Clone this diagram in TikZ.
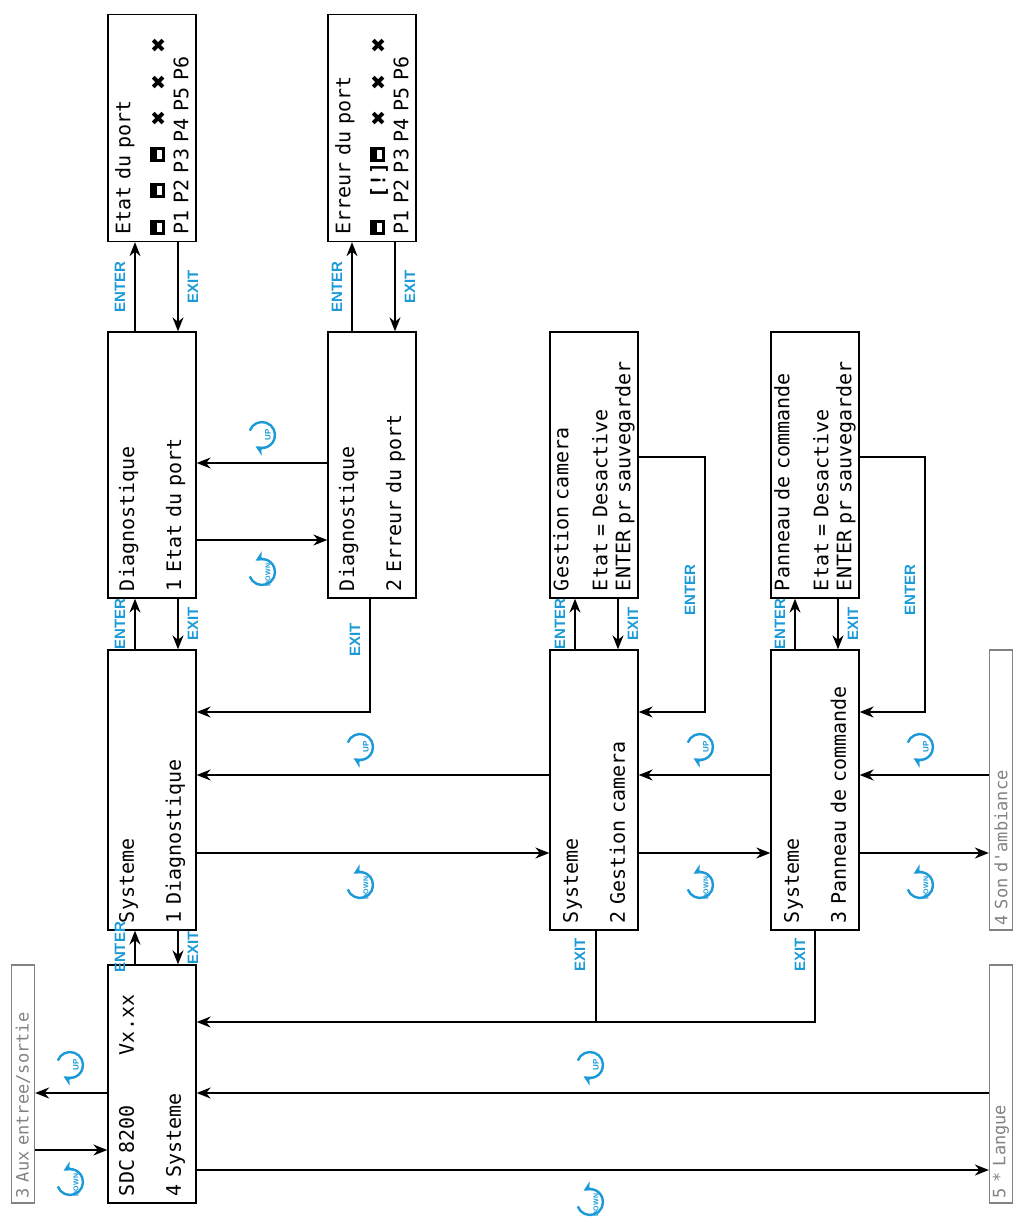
\documentclass[tikz,border=0pt]{standalone}
\usepackage{fontspec}
\setmainfont{Liberation Sans}
\newfontfamily\lcd{DejaVu Sans Mono}
\newfontfamily\symb{DejaVu Sans}
\usetikzlibrary{arrows.meta,positioning,calc}
\definecolor{keyblue}{RGB}{27,154,215}
\definecolor{offgray}{RGB}{130,130,130}
\tikzset{
  screen/.style={draw,line width=1.3pt,rotate=90,minimum width=238pt,minimum height=88pt,
    text width=224pt,align=left,font=\lcd\fontsize{20}{23}\selectfont,inner sep=0pt},
  dscreen/.style={screen,minimum width=266pt,text width=252pt},
  wscreen/.style={screen,minimum width=280pt,text width=266pt},
  tscreen/.style={screen,minimum width=227pt,text width=213pt},
  offscreen/.style={draw=offgray,line width=1.3pt,rotate=90,minimum width=238pt,minimum height=23pt,
    text width=228pt,align=left,text=offgray,font=\lcd\fontsize{17}{18}\selectfont,inner sep=0pt},
  link/.style={line width=1.5pt,-{Stealth[length=14pt,width=11pt]}},
  wire/.style={line width=1.5pt},
  key/.style={rotate=90,text=keyblue,font=\bfseries\fontsize{15}{15}\selectfont},
  uparr/.pic={\draw[keyblue,line width=2.4pt,-{Stealth[length=10pt,width=10pt]}] (-160:13) arc(-160:120:13);
    \node[rotate=90,text=keyblue,font=\bfseries\fontsize{8}{8}\selectfont] at (6,0) {UP};},
  dnarr/.pic={\draw[keyblue,line width=2.4pt,-{Stealth[length=10pt,width=10pt]}] (160:13) arc(160:-120:13);
    \node[rotate=90,text=keyblue,font=\bfseries\fontsize{7}{7}\selectfont] at (6,3) {DOWN};},
}
\newcommand\portok{\tikz[baseline=0pt]{\fill (0,0) rectangle (15pt,15pt);\fill[white] (3pt,3pt) rectangle (12pt,8pt);}}
\newcommand\portko{{\symb\fontsize{19}{19}\selectfont\symbol{"2716}}}
\newcommand\porter{{\bfseries [!]}}
\newcommand\cell[1]{\makebox[1.806em][l]{#1}}
\begin{document}
\begin{tikzpicture}[x=1pt,y=-1pt]
\useasboundingbox (0,0) rectangle (1028,1226);
% screens
\node[screen] (sdc) at (152,1084) {SDC 8200\hspace{2.5em}Vx.xx\\[24pt]4 Systeme};
\node[wscreen] (sys1) at (152,790) {Systeme\\[24pt]1 Diagnostique};
\node[dscreen] (diag1) at (152,465) {Diagnostique\\[24pt]1 Etat du port};
\node[tscreen] (etat) at (152,128) {Etat du port\\[12pt]\cell{\portok}\cell{\portok}\cell{\portok}\cell{\portko}\cell{\portko}\cell{\portko}\\P1 P2 P3 P4 P5 P6};
\node[dscreen] (diag2) at (372,465) {Diagnostique\\[24pt]2 Erreur du port};
\node[tscreen] (err) at (372,128) {Erreur du port\\[12pt]\cell{\portok}\cell{\porter}\cell{\portok}\cell{\portko}\cell{\portko}\cell{\portko}\\P1 P2 P3 P4 P5 P6};
\node[wscreen] (sys2) at (594,790) {Systeme\\[24pt]2 Gestion camera};
\node[dscreen] (cam) at (594,465) {Gestion camera\\[16pt]Etat = Desactive\\ENTER pr sauvegarder};
\node[wscreen] (sys3) at (815,790) {Systeme\\[24pt]3 Panneau de commande};
\node[dscreen] (pan) at (815,465) {Panneau de commande\\[16pt]Etat = Desactive\\ENTER pr sauvegarder};
\node[offscreen] (aux) at (23,1084) {3 Aux entree/sortie};
\node[offscreen,minimum width=280pt,text width=270pt] (son) at (1001,790) {4 Son d'ambiance};
\node[offscreen] (lang) at (1001,1084) {5 * Langue};
% enter / exit pairs
\foreach \lo/\hi/\a in {sdc/sys1/135,sys1/diag1/135,diag1/etat/135,diag2/err/352,sys2/cam/575,sys3/pan/795}{
  \draw[link] (\lo.east -| \a,0) -- (\hi.west -| \a,0);
  \draw[link] (\hi.west -| \a+43,0) -- (\lo.east -| \a+43,0);
  \node[key] at ($(\lo.east -| \a-15,0)!0.5!(\hi.west -| \a-15,0)$) {ENTER};
  \node[key] at ($(\lo.east -| \a+58,0)!0.5!(\hi.west -| \a+58,0)$) {EXIT};
}
% down / up between screens
\foreach \l/\r/\dy/\uy/\ix in {diag1/diag2/540/463/262,sys1/sys2/853/775/360,sys2/sys3/853/775/700,sys3/son/853/775/920,sdc/lang/1170/1093/590,aux/sdc/1150/1093/70}{
  \draw[link] (\l.south |- 0,\dy) -- (\r.north |- 0,\dy);
  \draw[link] (\r.north |- 0,\uy) -- (\l.south |- 0,\uy);
  \pic at (\ix,\dy+32) {dnarr};
  \pic at (\ix,\uy-28) {uparr};
}
% exits back
\draw[link] (diag2.west -| 370,0) |- (sys1.south |- 0,712);
\node[key] at (355,640) {EXIT};
\coordinate (j2) at (596,1022);
\draw[link] (sys2.west -| j2) -- (j2) -- (sdc.south |- j2);
\draw[wire] (sys3.west -| 815,0) |- (j2);
\node[key] at (580,955) {EXIT};
\node[key] at (800,955) {EXIT};
% enter to save
\draw[link] (cam.south |- 0,457) -| (705,712) -- (sys2.south |- 0,712);
\node[key] at (690,590) {ENTER};
\draw[link] (pan.south |- 0,457) -| (925,712) -- (sys3.south |- 0,712);
\node[key] at (910,590) {ENTER};
\end{tikzpicture}
\end{document}
